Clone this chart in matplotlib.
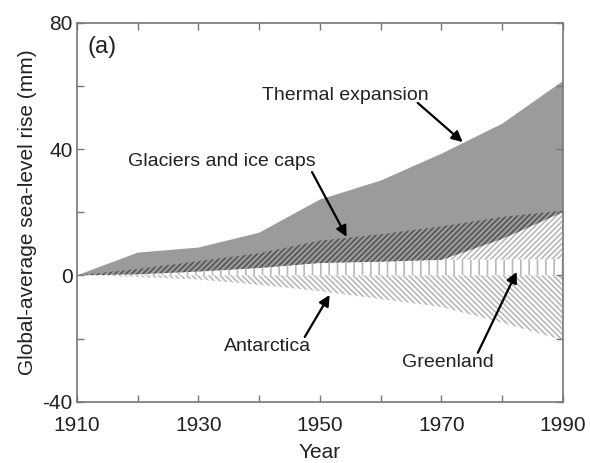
import matplotlib
matplotlib.use("Agg")
import matplotlib.pyplot as plt
import numpy as np

plt.rcParams['font.family'] = ['Liberation Sans', 'DejaVu Sans']
plt.rcParams['hatch.linewidth'] = 1.2
plt.rcParams['axes.unicode_minus'] = False

years = [1910, 1920, 1930, 1940, 1950, 1960, 1970, 1980, 1990]
total_top = [0, 7.2, 8.8, 13.5, 24, 30, 38.5, 48, 61.5]        # top of thermal expansion (grey)
thermal_bottom = [0, 0.3, 1.2, 2.3, 3.9, 4.3, 4.9, 11.5, 20]   # bottom of grey band
glacier_top = [0, 2, 4.5, 7, 11, 13, 15.5, 18.5, 20.5]
greenland_top = [0, 0.3, 1.2, 2.3, 3.9, 4.3, 4.9, 5.0, 5.2]
antarctica_bottom = [0, -0.5, -1.3, -3, -5, -7.5, -10, -15, -20.5]

labels = ["Thermal expansion", "Glaciers and ice caps", "Antarctica", "Greenland"]

fig = plt.figure(figsize=(5.9, 4.63), dpi=100)
ax = fig.add_axes([0.1305, 0.1324, 0.8235, 0.8186])

yrs = np.array(years)
# light hatch of glaciers (visible on white)
ax.fill_between(yrs, greenland_top, glacier_top, facecolor='none', edgecolor='#b8b8b8',
                hatch='//////', lw=0)
gray = ax.fill_between(yrs, thermal_bottom, total_top, facecolor='#9b9b9b',
                       edgecolor='none', lw=0)
# dark hatch of glaciers over the grey band
dark = ax.fill_between(yrs, greenland_top, glacier_top, facecolor='none', edgecolor='#555555',
                       hatch='//////', lw=0)
dark.set_clip_path(gray.get_paths()[0], ax.transData)
ax.fill_between(yrs, 0, greenland_top, facecolor='none', edgecolor='#b8b8b8',
                hatch='||', lw=0)
ax.fill_between(yrs, antarctica_bottom, 0, facecolor='none', edgecolor='#b8b8b8',
                hatch='\\\\\\\\\\\\', lw=0)

ax.set_xlim(1910, 1990)
ax.set_ylim(-40, 80)
ax.set_xticks([1910, 1930, 1950, 1970, 1990])
ax.set_xticks([1920, 1940, 1960, 1980], minor=True)
ax.set_yticks([-40, 0, 40, 80])
ax.set_yticks([-20, 20, 60], minor=True)
ax.tick_params(which='both', direction='in', length=5, width=1, color='#777777',
               labelsize=15, top=True, right=True, labelcolor='#222222')
ax.tick_params(axis='x', pad=10)
ax.tick_params(axis='y', pad=3)
for s in ax.spines.values():
    s.set_color('#777777')
    s.set_linewidth(1.2)

ax.set_xlabel("Year", fontsize=15, color='#222222', labelpad=6)
ax.set_ylabel("Global-average sea-level rise (mm)", fontsize=15, color='#222222', labelpad=4)

ax.text(1914.1, 72.3, "(a)", fontsize=17, ha='center', va='center', color='#222222')

arrow = dict(arrowstyle='-|>', color='black', lw=1.6, mutation_scale=16, shrinkA=0, shrinkB=0)
fs = 14
ax.text(1954.1, 57.1, labels[0], fontsize=fs, ha='center', va='center', color='#222222')
ax.annotate("", xy=(1973.5, 42.2), xytext=(1966.1, 54.6), arrowprops=arrow)
ax.text(1933.9, 35.9, labels[1], fontsize=fs, ha='center', va='center', color='#222222')
ax.annotate("", xy=(1954.4, 12.2), xytext=(1948.7, 32.7), arrowprops=arrow)
ax.text(1941.4, -22.6, labels[2], fontsize=fs, ha='center', va='center', color='#222222')
ax.annotate("", xy=(1951.6, -6.2), xytext=(1947.5, -19.5), arrowprops=arrow)
ax.text(1971.1, -27.7, labels[3], fontsize=fs, ha='center', va='center', color='#222222')
ax.annotate("", xy=(1982.4, 1.1), xytext=(1976.0, -24.5), arrowprops=arrow)

fig.savefig("out.png", dpi=100)
